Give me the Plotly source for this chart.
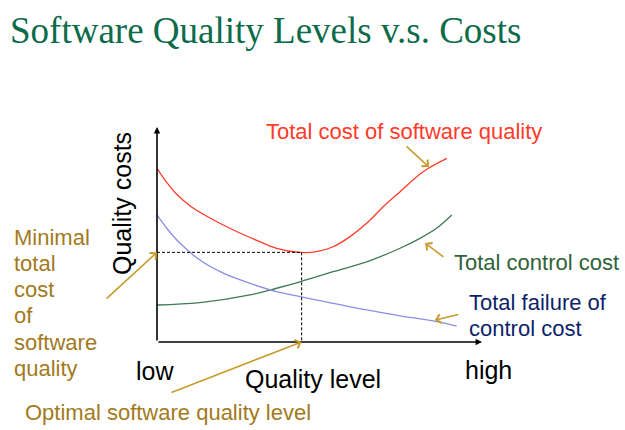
import plotly.graph_objects as go

# ---- data (quality level 0..10, quality cost 0..10) ----
total_x = [0, 0.3, 0.6, 1.02, 1.63, 2.35, 3.05, 3.68, 4.4, 4.91, 5.42, 5.94, 6.45, 6.96, 7.48, 7.99, 8.35, 8.92]
total_y = [8.08, 7.42, 6.88, 6.33, 5.77, 5.21, 4.74, 4.36, 4.17, 4.20, 4.43, 4.90, 5.52, 6.29, 6.99, 7.69, 8.08, 8.54]

control_x = [0, 1.32, 2.86, 3.68, 4.4, 5.42, 6.45, 7.48, 8.09, 8.6, 9.07]
control_y = [1.72, 1.83, 2.19, 2.50, 2.80, 3.27, 3.73, 4.36, 4.82, 5.29, 5.91]

failure_x = [0, 0.3, 0.71, 1.32, 2.04, 2.86, 3.68, 4.4, 5.42, 6.45, 7.48, 8.5, 9.22]
failure_y = [5.91, 5.29, 4.59, 3.81, 3.20, 2.73, 2.34, 2.11, 1.80, 1.49, 1.22, 0.98, 0.74]

opt_x = 4.45
opt_y = 4.17

x_tick_labels = ["low", "high"]
title_text = "Software Quality Levels v.s. Costs"
min_lines = ["Minimal", "total", "cost", "of", "software", "quality"]

# ---- layout geometry (pixels) ----
W, H = 625, 430
L, R, T, B = 157, 482, 127, 342


def pxx(p):
    return (p - L) / (R - L)


def pxy(p):
    return (B - p) / (B - T)


RED = "#FF3B2A"
GREEN_LINE = "#3E7A52"
BLUE_LINE = "#8A8EE8"
GOLD = "#C79B2C"
GOLD_TEXT = "#A27A1C"
GREEN_TEXT = "#2F6238"
NAVY = "#0E1F6A"
SANS = "Liberation Sans, Arial, sans-serif"

fig = go.Figure()
fig.add_trace(go.Scatter(x=total_x, y=total_y, mode="lines", line=dict(color=RED, width=1.3, shape="spline", smoothing=0.9),
                         cliponaxis=False, showlegend=False))
fig.add_trace(go.Scatter(x=control_x, y=control_y, mode="lines", line=dict(color=GREEN_LINE, width=1.3, shape="spline"),
                         cliponaxis=False, showlegend=False))
fig.add_trace(go.Scatter(x=failure_x, y=failure_y, mode="lines", line=dict(color=BLUE_LINE, width=1.3, shape="spline"),
                         cliponaxis=False, showlegend=False))

# dashed guides to the optimum
fig.add_shape(type="line", x0=0, y0=opt_y, x1=opt_x, y1=opt_y, line=dict(color="black", width=1, dash="3px,2px"))
fig.add_shape(type="line", x0=opt_x, y0=opt_y, x1=opt_x, y1=0, line=dict(color="black", width=1, dash="3px,2px"))

ann = []
# axes as arrows
ann.append(dict(x=10, y=0, ax=0, ay=0, xref="x", yref="y", axref="x", ayref="y", text="", showarrow=True,
                arrowhead=2, arrowsize=0.8, arrowwidth=1.6, arrowcolor="black", standoff=0))
ann.append(dict(x=0, y=10, ax=0, ay=0, xref="x", yref="y", axref="x", ayref="y", text="", showarrow=True,
                arrowhead=2, arrowsize=0.8, arrowwidth=1.6, arrowcolor="black", standoff=0))

# gold pointer arrows (head, tail) in data units
pointers = [
    ((0, opt_y), (-1.6, 1.95)),
    ((opt_x, 0), (0.4, -2.37)),
    ((8.37, 8.14), (7.63, 9.16)),
    ((8.25, 4.6), (8.86, 3.91)),
    ((8.55, 1.02), (9.32, 1.30)),
]
for (hx, hy), (tx, ty) in pointers:
    ann.append(dict(x=hx, y=hy, ax=tx, ay=ty, xref="x", yref="y", axref="x", ayref="y", text="",
                    showarrow=True, arrowhead=4, arrowsize=1.1, arrowwidth=1.6, arrowcolor=GOLD, standoff=0))


def label(text, x, y, color, size=22, xanchor="left", angle=0):
    ann.append(dict(text=text, x=pxx(x), y=pxy(y), xref="paper", yref="paper", showarrow=False,
                    xanchor=xanchor, yanchor="middle", textangle=angle,
                    font=dict(family=SANS, size=size, color=color)))


label("Total cost of software quality", 264, 131, RED)
label("Total control cost", 452, 262, GREEN_TEXT)
label("Total failure of", 467, 302, NAVY)
label("control cost", 467, 328, NAVY)
label("Quality costs", 122, 204, "black", size=25, xanchor="center", angle=-90)
label(x_tick_labels[0], 155, 371, "black", size=25, xanchor="center")
label("Quality level", 313, 379, "black", size=25, xanchor="center")
label(x_tick_labels[1], 488, 370, "black", size=25, xanchor="center")
label("Optimal software quality level", 23, 412, GOLD_TEXT)
for i, t in enumerate(min_lines):
    label(t, 12, 237 + i * 26.3, GOLD_TEXT)

fig.update_layout(
    width=W, height=H,
    margin=dict(l=L, r=W - R, t=T, b=H - B, pad=0),
    paper_bgcolor="white", plot_bgcolor="white",
    title=dict(text=title_text, x=10 / W, xanchor="left", xref="container",
               y=1 - 30 / H, yanchor="middle", yref="container",
               font=dict(family="Liberation Serif, Times New Roman, serif", size=37, color="#0C6B4B")),
    xaxis=dict(range=[0, 10], showgrid=False, zeroline=False, showticklabels=False, ticks="", showline=False,
               fixedrange=True),
    yaxis=dict(range=[0, 10], showgrid=False, zeroline=False, showticklabels=False, ticks="", showline=False,
               fixedrange=True),
    annotations=ann,
    showlegend=False,
)
fig.write_html("out.html")
